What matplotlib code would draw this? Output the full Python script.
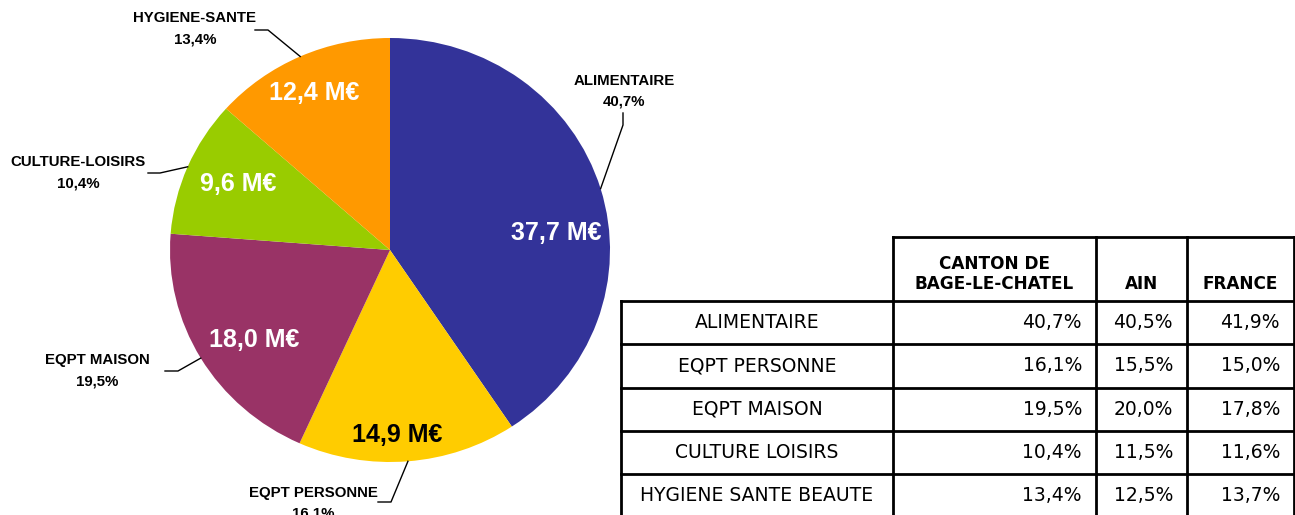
import numpy as np
import matplotlib
matplotlib.use("Agg")
import matplotlib.pyplot as plt

# donnees du camembert (canton de Bage-le-Chatel)
categories = ["ALIMENTAIRE", "EQPT PERSONNE", "EQPT MAISON", "CULTURE-LOISIRS", "HYGIENE-SANTE"]
parts = [40.7, 16.1, 19.5, 10.4, 13.4]
montants = ["37,7 M€", "14,9 M€", "18,0 M€", "9,6 M€", "12,4 M€"]
colors = ["#333399", "#FFCC00", "#993366", "#99CC00", "#FF9900"]
inner_color = ["white", "black", "white", "white", "white"]

# donnees du tableau
row_labels = ["ALIMENTAIRE", "EQPT PERSONNE", "EQPT MAISON", "CULTURE LOISIRS", "HYGIENE SANTE BEAUTE"]
col_labels = ["CANTON DE\nBAGE-LE-CHATEL", "AIN", "FRANCE"]
canton = ["40,7%", "16,1%", "19,5%", "10,4%", "13,4%"]
ain = ["40,5%", "15,5%", "20,0%", "11,5%", "12,5%"]
france = ["41,9%", "15,0%", "17,8%", "11,6%", "13,7%"]

W, H = 1295, 515
fig = plt.figure(figsize=(W / 100, H / 100), dpi=100)

# camembert : centre (390, 250) px, rayons 220 x 212 px
cx, cy, rx, ry = 390, 250, 220, 212
ax = fig.add_axes([(cx - rx) / W, (H - cy - ry) / H, 2 * rx / W, 2 * ry / H])
wedges, _ = ax.pie(parts, colors=colors, startangle=90, counterclock=False,
                   radius=1, wedgeprops=dict(linewidth=0))
ax.set_aspect('auto')
ax.set_xlim(-1, 1)
ax.set_ylim(-1, 1)
ax.axis('off')

# axes de superposition en pixels
ov = fig.add_axes([0, 0, 1, 1])
ov.set_xlim(0, W)
ov.set_ylim(H, 0)
ov.axis('off')

bold_font = dict(family="Liberation Sans", weight="bold")

# montants dans les parts
inner_pos = [(556, 233), (397, 435), (254, 340), (238, 184), (314, 93)]
for txt, col, (x, y) in zip(montants, inner_color, inner_pos):
    ov.text(x, y, txt, ha="center", va="center", fontsize=18, color=col, **bold_font)

# etiquettes exterieures avec lignes de rappel
label_pos = [(624, 81), (313, 493), (97, 360), (78, 162), (195, 18)]
elbows = [[(623, 113), (623, 125)], [(378, 502), (391, 502)], [(165, 371), (178, 371)],
          [(148, 173), (160, 173)], [(255, 30), (268, 30)]]
for w, name, pct, (x, y), elb in zip(wedges, categories, parts, label_pos, elbows):
    ang = np.deg2rad((w.theta1 + w.theta2) / 2)
    ex = cx + rx * np.cos(ang)
    ey = cy - ry * np.sin(ang)
    ov.text(x, y, name, ha="center", va="center", fontsize=10.8, color="black", **bold_font)
    ov.text(x, y + 21, "{:.1f}%".format(pct).replace(".", ","), ha="center", va="center",
            fontsize=10.8, color="black", **bold_font)
    xs = [elb[0][0], elb[1][0], ex]
    ys = [elb[0][1], elb[1][1], ey]
    ov.plot(xs, ys, color="black", linewidth=1)

# tableau
x_left, x_c1, x_c2, x_c3, x_right = 621, 893, 1096, 1187, 1294
y_top, y_head = 237, 301
row_h = 43.3
lw = 2
n = len(row_labels)
y_rows = [y_head + i * row_h for i in range(n + 1)]

# cadre de l'en-tete
ov.plot([x_c1, x_right], [y_top, y_top], color="black", lw=lw)
for x in [x_c1, x_c2, x_c3, x_right]:
    ov.plot([x, x], [y_top, y_rows[-1] + 10], color="black", lw=lw)
ov.plot([x_left, x_left], [y_head, y_rows[-1] + 10], color="black", lw=lw)
for y in y_rows[:-1]:
    ov.plot([x_left, x_right], [y, y], color="black", lw=lw)
ov.plot([x_left, x_right], [y_rows[-1], y_rows[-1]], color="black", lw=lw)

head_x = [(x_c1 + x_c2) / 2, (x_c2 + x_c3) / 2, (x_c3 + x_right) / 2]
for hx, lab in zip(head_x, col_labels):
    ov.text(hx, y_head - 8, lab, ha="center", va="bottom", fontsize=12.2,
            family="DejaVu Sans", weight="bold", linespacing=1.15)

for i in range(n):
    ymid = (y_rows[i] + y_rows[i + 1]) / 2
    ov.text((x_left + x_c1) / 2, ymid, row_labels[i], ha="center", va="center",
            fontsize=13.5, family="DejaVu Sans")
    for xr, vals in zip([x_c2, x_c3, x_right], [canton, ain, france]):
        ov.text(xr - 14, ymid, vals[i], ha="right", va="center",
                fontsize=13.5, family="DejaVu Sans")

fig.savefig("out.png", dpi=100)
plt.close(fig)
